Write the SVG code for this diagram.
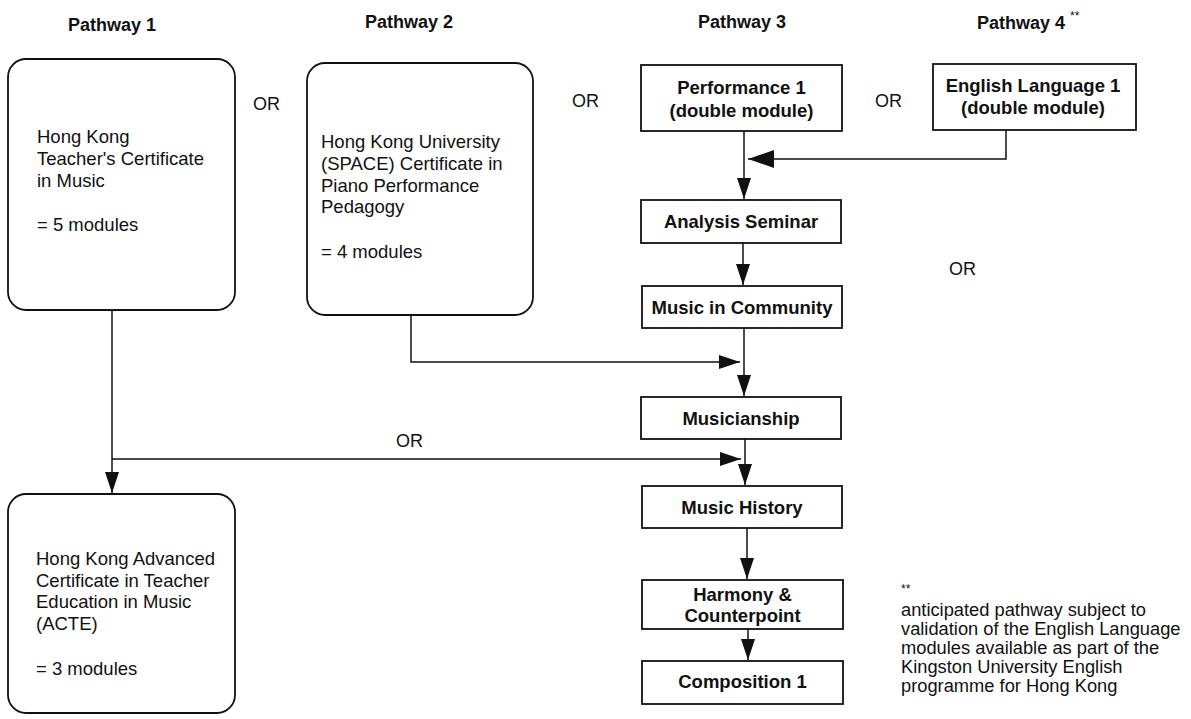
<svg xmlns="http://www.w3.org/2000/svg" width="1191" height="719" viewBox="0 0 1191 719">
  <style>
    text { font-family: "Liberation Sans", Arial, Helvetica, sans-serif; fill: #111; }
    .head { font-size: 18px; font-weight: bold; text-anchor: middle; }
    .body { font-size: 18.5px; }
    .mod { font-size: 18.5px; font-weight: bold; text-anchor: middle; }
    .or { font-size: 18px; }
    .note { font-size: 18.3px; }
    .star { font-size: 12px; }
    .cert { fill: #fff; stroke: #111; stroke-width: 1.8; }
    .box { fill: #fff; stroke: #111; stroke-width: 1.8; }
    .link { fill: none; stroke: #111; stroke-width: 1.5; }
  </style>
  <defs>
    <marker id="arrow" markerUnits="userSpaceOnUse" markerWidth="21" markerHeight="14" refX="21" refY="7" orient="auto">
      <path d="M0,0 L21,7 L0,14 z" fill="#111"/>
    </marker>
    <marker id="arrow-big" markerUnits="userSpaceOnUse" markerWidth="26" markerHeight="18" refX="26" refY="9" orient="auto">
      <path d="M0,0 L26,9 L0,18 z" fill="#111"/>
    </marker>
  </defs>

  <rect width="1191" height="719" fill="#fff"/>

  <!-- column headings -->
  <g id="headings">
    <text class="head" x="112" y="31">Pathway 1</text>
    <text class="head" x="409" y="28">Pathway 2</text>
    <text class="head" x="742" y="28">Pathway 3</text>
    <text class="head" x="1021" y="29">Pathway 4</text>
    <text class="star" x="1070" y="20">**</text>
  </g>

  <!-- alternatives -->
  <g id="or-labels">
    <text class="or" x="253" y="110">OR</text>
    <text class="or" x="572" y="107">OR</text>
    <text class="or" x="875" y="107">OR</text>
    <text class="or" x="949" y="275">OR</text>
    <text class="or" x="396" y="447">OR</text>
  </g>

  <!-- connectors -->
  <g id="connectors">
    <path class="link" d="M744,131 V199" marker-end="url(#arrow)"/>
    <path class="link" d="M1006,130 V159 H748" marker-end="url(#arrow-big)"/>
    <path class="link" d="M743,243 V285" marker-end="url(#arrow)"/>
    <path class="link" d="M744,328 V396" marker-end="url(#arrow)"/>
    <path class="link" d="M411,315 V362 H740" marker-end="url(#arrow)"/>
    <path class="link" d="M745,439 V485" marker-end="url(#arrow)"/>
    <path class="link" d="M112,310 V493" marker-end="url(#arrow)"/>
    <path class="link" d="M112,459 H741" marker-end="url(#arrow)"/>
    <path class="link" d="M747,528 V579" marker-end="url(#arrow)"/>
    <path class="link" d="M748,629 V660" marker-end="url(#arrow)"/>
  </g>

  <!-- Pathway 1 -->
  <g id="hk-teachers-certificate">
    <rect class="cert" x="8" y="59" width="227" height="251" rx="18" ry="18"/>
    <text class="body" x="37" y="143">Hong Kong</text>
    <text class="body" x="37" y="165">Teacher's Certificate</text>
    <text class="body" x="37" y="187">in Music</text>
    <text class="body" x="37" y="231">= 5 modules</text>
  </g>

  <g id="hk-acte">
    <rect class="cert" x="8" y="494" width="227" height="219" rx="18" ry="18"/>
    <text class="body" x="36" y="565">Hong Kong Advanced</text>
    <text class="body" x="36" y="587">Certificate in Teacher</text>
    <text class="body" x="36" y="608">Education in Music</text>
    <text class="body" x="36" y="630">(ACTE)</text>
    <text class="body" x="36" y="675">= 3 modules</text>
  </g>

  <!-- Pathway 2 -->
  <g id="hku-space-certificate">
    <rect class="cert" x="307" y="63" width="226" height="252" rx="18" ry="18"/>
    <text class="body" x="321" y="148">Hong Kong University</text>
    <text class="body" x="321" y="170">(SPACE) Certificate in</text>
    <text class="body" x="321" y="192">Piano Performance</text>
    <text class="body" x="321" y="213">Pedagogy</text>
    <text class="body" x="321" y="258">= 4 modules</text>
  </g>

  <!-- Pathway 3 -->
  <g id="performance-1">
    <rect class="box" x="641" y="65" width="201" height="66"/>
    <text class="mod" x="741.5" y="94">Performance 1</text>
    <text class="mod" x="741.5" y="117">(double module)</text>
  </g>

  <g id="analysis-seminar">
    <rect class="box" x="641" y="200" width="200" height="43"/>
    <text class="mod" x="741" y="228">Analysis Seminar</text>
  </g>

  <g id="music-in-community">
    <rect class="box" x="642" y="286" width="200" height="42"/>
    <text class="mod" x="742" y="314">Music in Community</text>
  </g>

  <g id="musicianship">
    <rect class="box" x="641" y="397" width="200" height="42"/>
    <text class="mod" x="741" y="425">Musicianship</text>
  </g>

  <g id="music-history">
    <rect class="box" x="642" y="486" width="200" height="42"/>
    <text class="mod" x="742" y="514">Music History</text>
  </g>

  <g id="harmony-counterpoint">
    <rect class="box" x="642" y="580" width="201" height="49"/>
    <text class="mod" x="742.5" y="601">Harmony &amp;</text>
    <text class="mod" x="742.5" y="622">Counterpoint</text>
  </g>

  <g id="composition-1">
    <rect class="box" x="642" y="661" width="201" height="43"/>
    <text class="mod" x="742.5" y="688">Composition 1</text>
  </g>

  <!-- Pathway 4 -->
  <g id="english-language-1">
    <rect class="box" x="933" y="64" width="203" height="66"/>
    <text class="mod" x="1033" y="92">English Language 1</text>
    <text class="mod" x="1033" y="114">(double module)</text>
  </g>

  <!-- footnote -->
  <g id="footnote">
    <text class="star" x="901" y="593">**</text>
    <text class="note" x="901" y="616">anticipated pathway subject to</text>
    <text class="note" x="901" y="635">validation of the English Language</text>
    <text class="note" x="901" y="654">modules available as part of the</text>
    <text class="note" x="901" y="673">Kingston University English</text>
    <text class="note" x="901" y="692">programme for Hong Kong</text>
  </g>
</svg>
